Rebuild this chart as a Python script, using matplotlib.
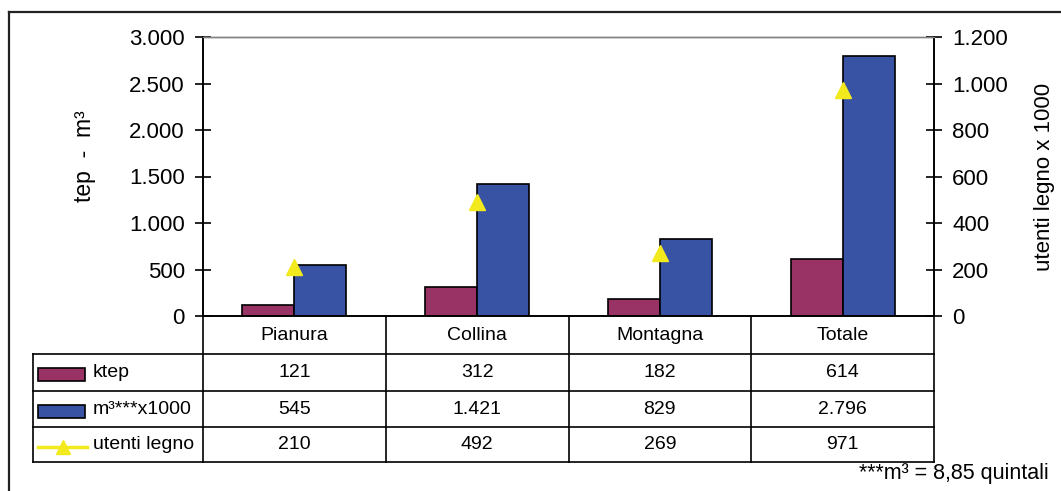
import matplotlib
matplotlib.use("Agg")
import matplotlib.pyplot as plt
from matplotlib.lines import Line2D
from matplotlib.patches import Rectangle
from matplotlib.ticker import FuncFormatter, MultipleLocator
from matplotlib.transforms import blended_transform_factory

plt.rcParams['font.family'] = ['Liberation Sans', 'DejaVu Sans']

# ── data ──
categories = ['Pianura', 'Collina', 'Montagna', 'Totale']
ktep = [121, 312, 182, 614]
m3_x1000 = [545, 1421, 829, 2796]
utenti_legno = [210, 492, 269, 971]
series_names = ['ktep', 'm³***x1000', 'utenti legno']

C_KTEP = '#993366'
C_M3 = '#3953A4'
C_UT = '#F2EA1C'

W, H = 1061, 491


def fx(px):
    return px / W


def fy(py):
    return 1 - py / H


def thousands(v, pos=None):
    return f'{v:,.0f}'.replace(',', '.')


fig = plt.figure(figsize=(W / 100, H / 100), dpi=100)
ax = fig.add_axes([fx(203), fy(316), fx(934) - fx(203), fy(37) - fy(316)])
ax2 = ax.twinx()

x = list(range(len(categories)))
bw = 0.285
ax.bar([i - bw / 2 for i in x], ktep, width=bw, color=C_KTEP,
       edgecolor='black', linewidth=1.2, zorder=2)
ax.bar([i + bw / 2 for i in x], m3_x1000, width=bw, color=C_M3,
       edgecolor='black', linewidth=1.2, zorder=2)
ax2.plot(x, utenti_legno, linestyle='none', marker='^', markersize=11,
         color=C_UT, markeredgecolor=C_UT, zorder=3)

ax.set_xlim(-0.5, len(categories) - 0.5)
ax.set_ylim(0, 3000)
ax2.set_ylim(0, 1200)
ax.yaxis.set_major_locator(MultipleLocator(500))
ax2.yaxis.set_major_locator(MultipleLocator(200))
ax.yaxis.set_major_formatter(FuncFormatter(thousands))
ax2.yaxis.set_major_formatter(FuncFormatter(thousands))
ax.set_xticks([])

for a in (ax, ax2):
    a.tick_params(axis='y', direction='inout', length=12, width=1.2,
                  labelsize=16, pad=7)
    for s in a.spines.values():
        s.set_linewidth(1.2)
    a.spines['top'].set_color('#808080')
    a.spines['top'].set_linewidth(1.0)
    a.set_facecolor('none')

ax.set_ylabel('tep  -  m³', fontsize=16.5)
ax2.set_ylabel('utenti legno x 1000', fontsize=16)
# place axis titles like the original
ax.yaxis.set_label_coords((96 - 203) / (934 - 203), (316 - 156) / (316 - 37))
ax2.yaxis.set_label_coords((1034 - 203) / (934 - 203), 0.5)

# ── data table ──
tb = blended_transform_factory(ax.transData, fig.transFigure)
rows_y = [316, 354, 391, 427, 462]
lw = 1.2
fs = 14

# vertical lines at category boundaries
for b in [i - 0.5 for i in range(len(categories) + 1)]:
    fig.add_artist(Line2D([b, b], [fy(rows_y[0]), fy(rows_y[-1])],
                          transform=tb, color='black', lw=lw))
# left border of label column
fig.add_artist(Line2D([fx(33), fx(33)], [fy(rows_y[1]), fy(rows_y[-1])],
                      transform=fig.transFigure, color='black', lw=lw))
# horizontal lines
for r in rows_y[1:]:
    fig.add_artist(Line2D([fx(33), fx(934)], [fy(r), fy(r)],
                          transform=fig.transFigure, color='black', lw=lw))

# header row
hy = fy((rows_y[0] + rows_y[1]) / 2)
for i, c in enumerate(categories):
    fig.text(i, hy, c, transform=tb, ha='center', va='center', fontsize=fs)

# value rows
for k, vals in enumerate([ktep, m3_x1000, utenti_legno]):
    cy = fy((rows_y[k + 1] + rows_y[k + 2]) / 2)
    for i, v in enumerate(vals):
        fig.text(i, cy, thousands(v), transform=tb, ha='center', va='center',
                 fontsize=fs)
    fig.text(fx(93), cy, series_names[k], ha='left', va='center', fontsize=fs)

# legend keys inside table
for k, col in enumerate([C_KTEP, C_M3]):
    cy = (rows_y[k + 1] + rows_y[k + 2]) / 2 + 2
    fig.add_artist(Rectangle((fx(38), fy(cy + 6.5)), fx(85) - fx(38),
                             fy(cy - 6.5) - fy(cy + 6.5), transform=fig.transFigure,
                             facecolor=col, edgecolor='black', lw=1.2))
cy = fy(447)
fig.add_artist(Line2D([fx(38), fx(87)], [cy, cy], transform=fig.transFigure,
                      color=C_UT, lw=2.5))
fig.add_artist(Line2D([fx(62.5)], [cy], transform=fig.transFigure,
                      color=C_UT, marker='^', markersize=10, linestyle='none'))

# footnote
fig.text(fx(1049), fy(473), '***m³ = 8,85 quintali', ha='right', va='center',
         fontsize=15.5)

# outer frame
fig.add_artist(Line2D([fx(9), 1.0], [fy(12), fy(12)], transform=fig.transFigure,
                      color='#222222', lw=1.6))
fig.add_artist(Line2D([fx(9), fx(9)], [fy(12), 0.0], transform=fig.transFigure,
                      color='#222222', lw=1.6))

fig.savefig('out.png', dpi=100)
